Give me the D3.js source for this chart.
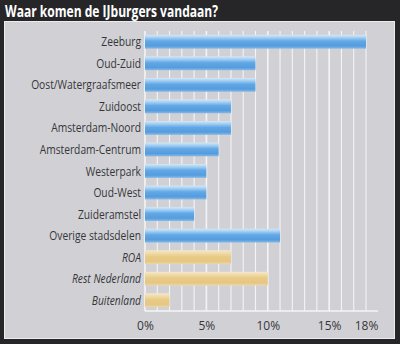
<!DOCTYPE html>
<html lang="nl">
<head>
<meta charset="UTF-8">
<title>Waar komen de IJburgers vandaan?</title>
<script src="https://d3js.org/d3.v7.min.js"></script>
<style>
    body { margin: 0; background: #262628; }
    svg { display: block; }
    .label { font-family: "Open Sans", sans-serif; font-size: 12.5px; fill: #36363a; }
    .tick-label { font-family: "Open Sans", sans-serif; font-size: 12px; fill: #36363a; }
</style>
</head>
<body>
<svg id="chart" width="400" height="344"></svg>
<script>
    // Herkomst van de bewoners (in procenten)
    const categories = ["Zeeburg", "Oud-Zuid", "Oost/Watergraafsmeer", "Zuidoost", "Amsterdam-Noord",
        "Amsterdam-Centrum", "Westerpark", "Oud-West", "Zuideramstel", "Overige stadsdelen",
        "ROA", "Rest Nederland", "Buitenland"];
    const values = [18, 9, 9, 7, 7, 6, 5, 5, 4, 11, 7, 10, 2];
    const outsideCity = ["ROA", "Rest Nederland", "Buitenland"];
    const tickValues = [0, 5, 10, 15, 18];

    const svg = d3.select("#chart");
    const W = 400, H = 344;

    svg.append("rect").attr("width", W).attr("height", H).attr("fill", "#262628");

    svg.append("text")
        .attr("x", 5).attr("y", 17)
        .attr("fill", "#ffffff")
        .style("font-family", "'Open Sans', sans-serif")
        .style("font-weight", "bold")
        .style("font-size", "16.5px")
        .attr("textLength", 213)
        .attr("lengthAdjust", "spacingAndGlyphs")
        .text("Waar komen de IJburgers vandaan?");

    // grijs paneel
    svg.append("rect")
        .attr("x", 4.5).attr("y", 21.5).attr("width", 390).attr("height", 317)
        .attr("fill", "#d1d1d5").attr("stroke", "#ececee").attr("stroke-width", 1);

    const plotLeft = 145, plotRight = 378, plotTop = 31, plotBottom = 311;

    const x = d3.scaleLinear().domain([0, 18]).range([plotLeft, 366]);
    const y = d3.scaleBand().domain(categories).range([plotTop, plotBottom]).paddingInner(0.36).paddingOuter(0.18);

    // verlopen voor de balken
    const defs = svg.append("defs");
    function gradient(id, stops) {
        const g = defs.append("linearGradient").attr("id", id)
            .attr("x1", 0).attr("y1", 0).attr("x2", 0).attr("y2", 1);
        stops.forEach(s => g.append("stop").attr("offset", s[0]).attr("stop-color", s[1]));
    }
    gradient("blue", [[0, "#d4e8f8"], [0.2, "#a3cff2"], [0.45, "#62a8e6"], [0.8, "#559cde"], [1, "#86bae8"]]);
    gradient("gold", [[0, "#f5e9cc"], [0.2, "#f0dcaa"], [0.45, "#e9cb88"], [0.8, "#e5c682"], [1, "#ecd6a8"]]);

    // rasterlijnen per procent
    svg.append("g")
        .selectAll("line")
        .data(d3.range(0, 19))
        .join("line")
        .attr("x1", d => x(d)).attr("x2", d => x(d))
        .attr("y1", plotTop).attr("y2", plotBottom)
        .attr("stroke", "#f4f4f6")
        .attr("stroke-width", d => d % 5 === 0 ? 1.6 : 1.1);

    svg.append("line")
        .attr("x1", plotLeft).attr("x2", plotRight)
        .attr("y1", plotBottom).attr("y2", plotBottom)
        .attr("stroke", "#f4f4f6").attr("stroke-width", 1.5);

    svg.append("g")
        .selectAll("rect")
        .data(categories)
        .join("rect")
        .attr("x", x(0))
        .attr("y", d => y(d))
        .attr("width", (d, i) => x(values[i]) - x(0))
        .attr("height", y.bandwidth())
        .attr("fill", d => outsideCity.includes(d) ? "url(#gold)" : "url(#blue)");

    // labels iets smaller zetten (condensed letter)
    svg.append("g")
        .selectAll("text")
        .data(categories)
        .join("text")
        .attr("class", "label")
        .attr("x", 141)
        .attr("y", d => y(d) + y.bandwidth() / 2)
        .attr("dy", "0.36em")
        .attr("text-anchor", "end")
        .style("font-style", d => outsideCity.includes(d) ? "italic" : "normal")
        .text(d => d)
        .each(function() {
            const len = this.getComputedTextLength();
            d3.select(this).attr("textLength", len * 0.82).attr("lengthAdjust", "spacingAndGlyphs");
        });

    // as met percentages
    const axis = svg.append("g")
        .attr("transform", `translate(0,${plotBottom})`)
        .call(d3.axisBottom(x).tickValues(tickValues).tickFormat(d => d + "%").tickSize(0).tickPadding(10));
    axis.select(".domain").remove();
    axis.selectAll("text").attr("class", "tick-label").attr("font-family", null).attr("font-size", null);
</script>
</body>
</html>
